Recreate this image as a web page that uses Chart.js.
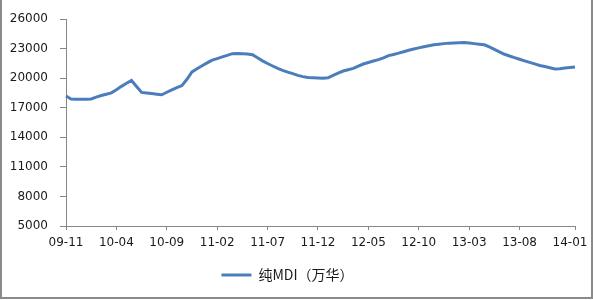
<!DOCTYPE html>
<html>
<head>
<meta charset="utf-8">
<script src="https://cdn.jsdelivr.net/npm/chart.js@4/dist/chart.umd.min.js"></script>
<style>
  html, body { margin: 0; padding: 0; background: #fff; }
  #wrap { position: relative; width: 593px; height: 300px; overflow: hidden; }
  #frame { position: absolute; left: 0; top: -1px; width: 593px; height: 300px; box-sizing: border-box;
           border-left: 2px solid #8a8a8a; border-right: 2px solid #8a8a8a; border-bottom: 2px solid #8a8a8a;
           pointer-events: none; }
</style>
</head>
<body>
<div id="wrap">
  <canvas id="c" width="593" height="300"></canvas>
  <div id="frame"></div>
</div>
<script>
// Tick labels shown on the x axis (every 10th half-month point)
const tickLabels = ["09-11","10-04","10-09","11-02","11-07","11-12","12-05","12-10","13-03","13-08","14-01"];
const labelEvery = 10;

// Categories: half-month observations starting 2009-11
const categories = [];
for (let i = 0; i < 102; i++) {
  const m = 10 + Math.floor(i / 2);
  const y = 2009 + Math.floor(m / 12);
  const mm = (m % 12) + 1;
  categories.push(String(y % 100).padStart(2, "0") + "-" + String(mm).padStart(2, "0"));
}

// 纯MDI（万华） price
const seriesName = "纯MDI（万华）";
const mdiValues = [
  18200, 17900, 17880, 17870, 17880, 17900, 18080, 18250, 18380, 18520,
  18830, 19180, 19490, 19780, 19170, 18570, 18510, 18450, 18390, 18330,
  18580, 18830, 19050, 19260, 19900, 20650, 20970, 21270, 21560, 21840,
  22000, 22170, 22330, 22500, 22520, 22490, 22470, 22390, 22080, 21770,
  21500, 21250, 21000, 20800, 20630, 20470, 20300, 20170, 20080, 20050,
  20030, 20010, 20050, 20300, 20520, 20740, 20870, 21000, 21230, 21450,
  21600, 21750, 21890, 22080, 22300, 22420, 22550, 22700, 22840, 22980,
  23090, 23200, 23300, 23400, 23460, 23520, 23570, 23590, 23610, 23640,
  23590, 23520, 23460, 23400, 23180, 22930, 22690, 22440, 22260, 22100,
  21930, 21770, 21610, 21460, 21300, 21190, 21070, 20950, 20980, 21040,
  21100, 21150
];

const yMin = 5000, yMax = 26000, yStep = 3000;

const axisColor = "#868686";
const textColor = "#1a1a1a";
const tickFont = { family: "'DejaVu Sans', sans-serif", size: 12 };

new Chart(document.getElementById("c"), {
  type: "line",
  data: {
    labels: categories,
    datasets: [{
      label: seriesName,
      data: mdiValues,
      borderColor: "#4a7ebb",
      backgroundColor: "#4a7ebb",
      borderWidth: 3,
      pointRadius: 0,
      pointHoverRadius: 0,
      tension: 0,
      fill: false,
      pointStyle: "line"
    }]
  },
  options: {
    responsive: false,
    animation: false,
    layout: { padding: { top: 16, right: 18, bottom: 8, left: 0 } },
    plugins: {
      tooltip: { enabled: false },
      legend: {
        position: "bottom",
        labels: {
          usePointStyle: true,
          pointStyle: "line",
          pointStyleWidth: 30,
          boxHeight: 12,
          padding: 10,
          color: textColor,
          font: { family: "'Noto Sans CJK SC', 'DejaVu Sans', sans-serif", size: 14 }
        }
      }
    },
    scales: {
      x: {
        type: "category",
        offset: false,
        afterFit: (s) => { s.height = 32; },
        grid: {
          drawOnChartArea: false,
          drawTicks: true,
          tickLength: 4,
          color: (ctx) => {
            const i = ctx.index;
            return ((i % labelEvery === 0 && i < 100) || i === categories.length - 1) ? axisColor : "rgba(0,0,0,0)";
          }
        },
        border: { display: true, color: axisColor, width: 1 },
        ticks: {
          autoSkip: false,
          maxRotation: 0,
          minRotation: 0,
          padding: 6,
          color: textColor,
          font: tickFont,
          callback: function (v, i) {
            return i % labelEvery === 0 ? tickLabels[i / labelEvery] : "";
          }
        }
      },
      y: {
        min: yMin,
        max: yMax,
        afterFit: (s) => { s.width = 66; },
        grid: {
          drawOnChartArea: false,
          drawTicks: true,
          tickLength: 6,
          color: axisColor
        },
        border: { display: true, color: axisColor, width: 1 },
        ticks: {
          stepSize: yStep,
          padding: 12,
          color: textColor,
          font: tickFont,
          callback: (v) => String(v)
        }
      }
    }
  }
});
</script>
</body>
</html>
